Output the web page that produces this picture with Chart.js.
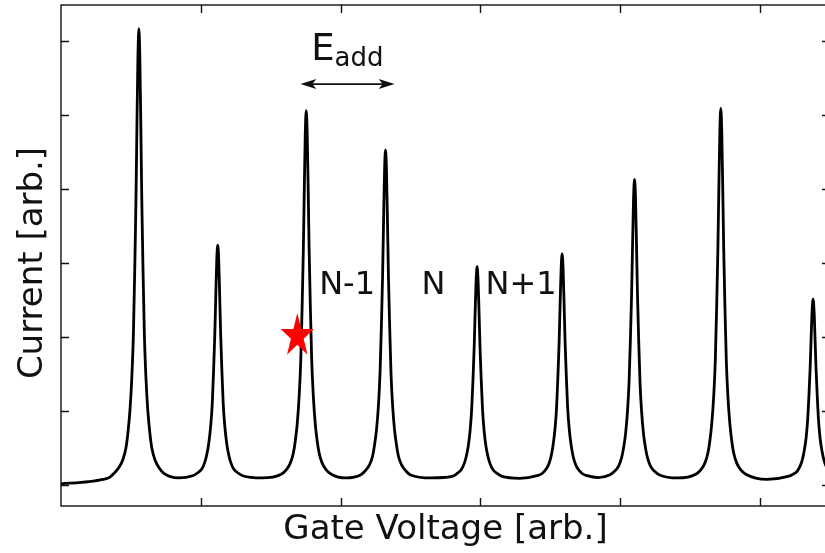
<!DOCTYPE html>
<html>
<head>
<meta charset="utf-8">
<script src="https://cdn.jsdelivr.net/npm/chart.js@4.4.1/dist/chart.umd.min.js"></script>
<style>
  html, body { margin: 0; background: #fff; overflow: hidden; }
  #wrap { width: 835px; height: 553px; position: relative; }
</style>
</head>
<body>
<div id="wrap"><canvas id="chart"></canvas></div>
<script>
// gate voltage (x) and current (y), one peak per line
const gateV = [
  0.000, 0.200, 0.300, 0.350,
  0.378,0.414,0.443,0.464,0.478,0.493,0.507,0.518,0.528,0.536,0.543,0.550,0.557,0.564,0.571,0.578,0.586,0.596,0.607,0.621,0.636,0.650,0.671,0.700,0.736,
  0.839,
  0.942,0.978,1.007,1.028,1.042,1.057,1.071,1.082,1.092,1.100,1.107,1.114,1.121,1.128,1.135,1.142,1.150,1.160,1.171,1.185,1.200,1.214,1.235,1.264,1.300,
  1.438,
  1.575,1.611,1.640,1.661,1.675,1.690,1.704,1.715,1.725,1.733,1.740,1.747,1.754,1.761,1.768,1.775,1.783,1.793,1.804,1.818,1.833,1.847,1.868,1.897,1.933,
  2.038,
  2.142,2.178,2.207,2.228,2.242,2.257,2.271,2.282,2.292,2.300,2.307,2.314,2.321,2.328,2.335,2.342,2.350,2.360,2.371,2.385,2.400,2.414,2.435,2.464,2.500,
  2.649,
  2.797,2.833,2.862,2.883,2.897,2.912,2.926,2.937,2.947,2.955,2.962,2.969,2.976,2.983,2.990,2.997,3.005,3.015,3.026,3.040,3.055,3.069,3.090,3.119,3.155,
  3.280,
  3.405,3.441,3.470,3.491,3.505,3.520,3.534,3.545,3.555,3.563,3.570,3.577,3.584,3.591,3.598,3.605,3.613,3.623,3.634,3.648,3.663,3.677,3.698,3.727,3.763,
  3.843,
  3.923,3.959,3.988,4.009,4.023,4.038,4.052,4.063,4.073,4.081,4.088,4.095,4.102,4.109,4.116,4.123,4.131,4.141,4.152,4.166,4.181,4.195,4.216,4.245,4.281,
  4.411,
  4.540,4.576,4.605,4.626,4.640,4.655,4.669,4.680,4.690,4.698,4.705,4.712,4.719,4.726,4.733,4.740,4.748,4.758,4.769,4.783,4.798,4.812,4.833,4.862,4.898,
  5.049,
  5.200,5.236,5.265,5.286,5.300,5.315,5.329,5.340,5.350,5.358,5.365,5.372,5.379,5.386,5.393,5.400,5.408,5.418,5.429,5.443,5.458,5.472,5.493,5.522,5.558
]
const current = [
  0.01, 0.04, 0.07, 0.10,
  0.15,0.23,0.34,0.49,0.69,1.00,1.47,2.05,2.97,3.83,4.85,5.77,6.17,5.77,4.85,3.83,2.97,2.05,1.47,1.00,0.69,0.49,0.34,0.23,0.15,
  0.09,
  0.12,0.16,0.21,0.30,0.40,0.56,0.80,1.10,1.58,2.03,2.55,3.04,3.24,3.04,2.55,2.03,1.58,1.10,0.80,0.56,0.40,0.30,0.21,0.16,0.12,
  0.09,
  0.14,0.20,0.29,0.42,0.58,0.83,1.22,1.69,2.44,3.15,3.98,4.74,5.06,4.74,3.98,3.15,2.44,1.69,1.22,0.83,0.58,0.42,0.29,0.20,0.14,
  0.09,
  0.13,0.19,0.27,0.38,0.53,0.75,1.09,1.52,2.19,2.82,3.56,4.24,4.53,4.24,3.56,2.82,2.19,1.52,1.09,0.75,0.53,0.38,0.27,0.19,0.13,
  0.09,
  0.11,0.15,0.20,0.28,0.37,0.51,0.73,1.01,1.44,1.85,2.33,2.76,2.95,2.76,2.33,1.85,1.44,1.01,0.73,0.51,0.37,0.28,0.20,0.15,0.11,
  0.085,
  0.12,0.15,0.21,0.29,0.38,0.54,0.77,1.06,1.52,1.95,2.46,2.92,3.12,2.92,2.46,1.95,1.52,1.06,0.77,0.54,0.38,0.29,0.21,0.15,0.12,
  0.095,
  0.13,0.18,0.25,0.36,0.49,0.69,1.00,1.39,2.00,2.58,3.25,3.87,4.13,3.87,3.25,2.58,2.00,1.39,1.00,0.69,0.49,0.36,0.25,0.18,0.13,
  0.09,
  0.14,0.20,0.29,0.42,0.58,0.84,1.22,1.70,2.45,3.17,4.00,4.76,5.09,4.76,4.00,3.17,2.45,1.70,1.22,0.84,0.58,0.42,0.29,0.20,0.14,
  0.07,
  0.11,0.14,0.18,0.25,0.32,0.45,0.63,0.87,1.23,1.58,1.98,2.35,2.51,2.35,1.98,1.58,1.23,0.87,0.63,0.45,0.32,0.25,0.18,0.14,0.11
]

// tick positions (the figure has no tick labels)
const xTicks = [1, 2, 3, 4, 5]
const yTicks = [0, 1, 2, 3, 4, 5, 6]

// annotations
const stateLabels = ['N-1', 'N', 'N+1']
const stateX = [2.046, 2.664, 3.290]
const stateY = 2.58
const eAddPos = [1.789, 5.743]
const arrowX = [1.712, 2.386]
const arrowY = 5.42
const starPos = [1.690, 2.01]

const FONT = '"DejaVu Sans", "Liberation Sans", sans-serif'
const INK = '#111'

function drawStar(ctx, cx, cy, r, sx) {
  ctx.save()
  ctx.translate(cx, cy)
  ctx.scale(sx, 1)
  ctx.beginPath()
  for (let i = 0; i < 10; i++) {
    const rr = i % 2 === 0 ? r : r * 0.381966
    const ang = -Math.PI / 2 + i * Math.PI / 5
    const px = rr * Math.cos(ang), py = rr * Math.sin(ang)
    if (i === 0) ctx.moveTo(px, py)
    else ctx.lineTo(px, py)
  }
  ctx.closePath()
  ctx.fillStyle = '#ff0000'
  ctx.fill()
  ctx.restore()
}

function arrowHead(ctx, tipX, tipY, dir) {
  // dir = +1 points right, -1 points left
  const len = 16, half = 5, notch = 4
  ctx.beginPath()
  ctx.moveTo(tipX, tipY)
  ctx.lineTo(tipX - dir * len, tipY - half)
  ctx.lineTo(tipX - dir * (len - notch), tipY)
  ctx.lineTo(tipX - dir * len, tipY + half)
  ctx.closePath()
  ctx.fill()
}

const decor = {
  id: 'decor',
  afterDraw(chart) {
    const { ctx, chartArea: a } = chart
    const x = chart.scales.x, y = chart.scales.y
    ctx.save()

    // frame
    ctx.strokeStyle = INK
    ctx.lineWidth = 1.4
    ctx.strokeRect(a.left, a.top, a.right - a.left, a.bottom - a.top)

    // inward ticks on all four sides
    const tl = 8
    ctx.beginPath()
    xTicks.forEach(v => {
      const px = Math.round(x.getPixelForValue(v)) + 0.5
      ctx.moveTo(px, a.bottom); ctx.lineTo(px, a.bottom - tl)
      ctx.moveTo(px, a.top); ctx.lineTo(px, a.top + tl)
    })
    yTicks.forEach(v => {
      const py = Math.round(y.getPixelForValue(v)) + 0.5
      ctx.moveTo(a.left, py); ctx.lineTo(a.left + tl, py)
      ctx.moveTo(a.right, py); ctx.lineTo(a.right - tl, py)
    })
    ctx.stroke()

    // axis titles
    ctx.fillStyle = INK
    ctx.font = '34px ' + FONT
    ctx.textAlign = 'center'
    ctx.textBaseline = 'alphabetic'
    ctx.fillText('Gate Voltage [arb.]', (a.left + a.right) / 2, 539)
    ctx.save()
    ctx.translate(42, 263)
    ctx.rotate(-Math.PI / 2)
    ctx.fillText('Current [arb.]', 0, 0)
    ctx.restore()

    // charge state labels
    ctx.font = '32px ' + FONT
    stateLabels.forEach((s, i) => {
      ctx.fillText(s, x.getPixelForValue(stateX[i]), y.getPixelForValue(stateY))
    })

    // E_add
    ctx.textAlign = 'left'
    const ex = x.getPixelForValue(eAddPos[0]), ey = y.getPixelForValue(eAddPos[1])
    ctx.font = '37px ' + FONT
    ctx.fillText('E', ex, ey)
    const ew = ctx.measureText('E').width
    ctx.font = '26px ' + FONT
    ctx.fillText('add', ex + ew, ey + 6)

    // double arrow
    const ax0 = x.getPixelForValue(arrowX[0]), ax1 = x.getPixelForValue(arrowX[1])
    const ay = y.getPixelForValue(arrowY)
    ctx.strokeStyle = INK
    ctx.lineWidth = 1.8
    ctx.beginPath()
    ctx.moveTo(ax0 + 6, ay); ctx.lineTo(ax1 - 6, ay)
    ctx.stroke()
    arrowHead(ctx, ax0, ay, -1)
    arrowHead(ctx, ax1, ay, 1)

    // red star
    drawStar(ctx, x.getPixelForValue(starPos[0]), y.getPixelForValue(starPos[1]), 23, 0.76)

    ctx.restore()
  }
}

new Chart('chart', {
  type: 'line',
  data: {
    datasets: [{
      data: gateV.map((v, i) => ({ x: v, y: current[i] })),
      borderColor: '#000',
      borderWidth: 2.8,
      borderJoinStyle: 'round',
      borderCapStyle: 'round',
      cubicInterpolationMode: 'monotone',
      pointRadius: 0,
      fill: false
    }]
  },
  options: {
    responsive: true,
    maintainAspectRatio: false,
    animation: false,
    events: [],
    layout: { padding: { left: 61, top: 5, right: 5, bottom: 47 } },
    plugins: { legend: { display: false }, tooltip: { enabled: false } },
    scales: {
      x: { type: 'linear', min: 0, max: 5.5, display: false },
      y: { type: 'linear', min: -0.29, max: 6.49, display: false }
    }
  },
  plugins: [decor]
})
</script>
</body>
</html>
